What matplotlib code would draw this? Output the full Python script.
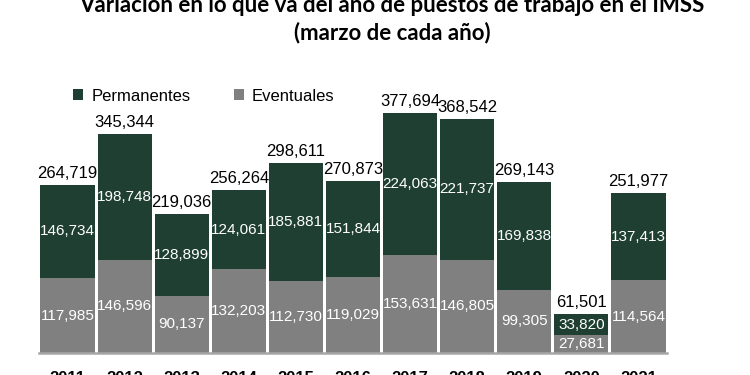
import numpy as np
import matplotlib.pyplot as plt
from matplotlib import font_manager

years = ["2011", "2012", "2013", "2014", "2015", "2016", "2017", "2018", "2019", "2020", "2021"]
permanentes = [146734, 198748, 128899, 124061, 185881, 151844, 224063, 221737, 169838, 33820, 137413]
eventuales = [117985, 146596, 90137, 132203, 112730, 119029, 153631, 146805, 99305, 27681, 114564]
totales = [264719, 345344, 219036, 256264, 298611, 270873, 377694, 368542, 269143, 61501, 251977]

verde = "#1e3f32"
gris = "#808080"

plt.rcParams['font.family'] = ['Liberation Sans', 'DejaVu Sans']

# etiquetas internas en letra angosta si existe
nombres = {f.name for f in font_manager.fontManager.ttflist}
if "Liberation Sans Narrow" in nombres:
    fam_int, tam_int = "Liberation Sans Narrow", 12
else:
    fam_int, tam_int = "Liberation Sans", 11

fig = plt.figure(figsize=(7.5, 3.75), dpi=100)
ax = fig.add_axes([39 / 750, 22 / 375, 628 / 750, 254 / 375])

x = np.arange(len(years))
ax.bar(x, eventuales, width=0.95, color=gris, label="Eventuales")
ax.bar(x, permanentes, width=0.95, bottom=eventuales, color=verde, label="Permanentes")

ax.set_xlim(-0.5, len(years) - 0.5)
ax.set_ylim(0, 400000)

for i in range(len(years)):
    ax.text(x[i], eventuales[i] / 2, f"{eventuales[i]:,}", ha="center", va="center",
            color="white", fontsize=tam_int, family=fam_int)
    ax.text(x[i], eventuales[i] + permanentes[i] / 2, f"{permanentes[i]:,}", ha="center",
            va="center", color="white", fontsize=tam_int, family=fam_int)
    ax.annotate(f"{totales[i]:,}", (x[i], totales[i]), xytext=(0, 3), textcoords="offset points",
                ha="center", va="bottom", fontsize=12)

for s in ["top", "right", "left"]:
    ax.spines[s].set_visible(False)
ax.spines["bottom"].set_color("#a6a6a6")
ax.spines["bottom"].set_linewidth(1.8)
ax.set_yticks([])
ax.set_xticks(x)
ax.set_xticklabels(years, fontsize=12, fontweight="bold")
ax.tick_params(axis="x", length=0, pad=13)

h, l = ax.get_legend_handles_labels()
ax.legend(h[::-1], l[::-1], loc="upper left", bbox_to_anchor=(0.03, 1.10), ncol=2, frameon=False,
          fontsize=12, handlelength=0.6, handleheight=0.6, columnspacing=2.6, handletextpad=0.5)

fig.text(392 / 750, 1 - 6 / 375, "Variación en lo que va del año de puestos de trabajo en el IMSS",
         ha="center", va="center", fontsize=16, fontweight="bold", family=["Lato", "DejaVu Sans"])
fig.text(392 / 750, 1 - 33 / 375, "(marzo de cada año)",
         ha="center", va="center", fontsize=16, fontweight="bold", family=["Lato", "DejaVu Sans"])

fig.savefig("out.png", dpi=100)
